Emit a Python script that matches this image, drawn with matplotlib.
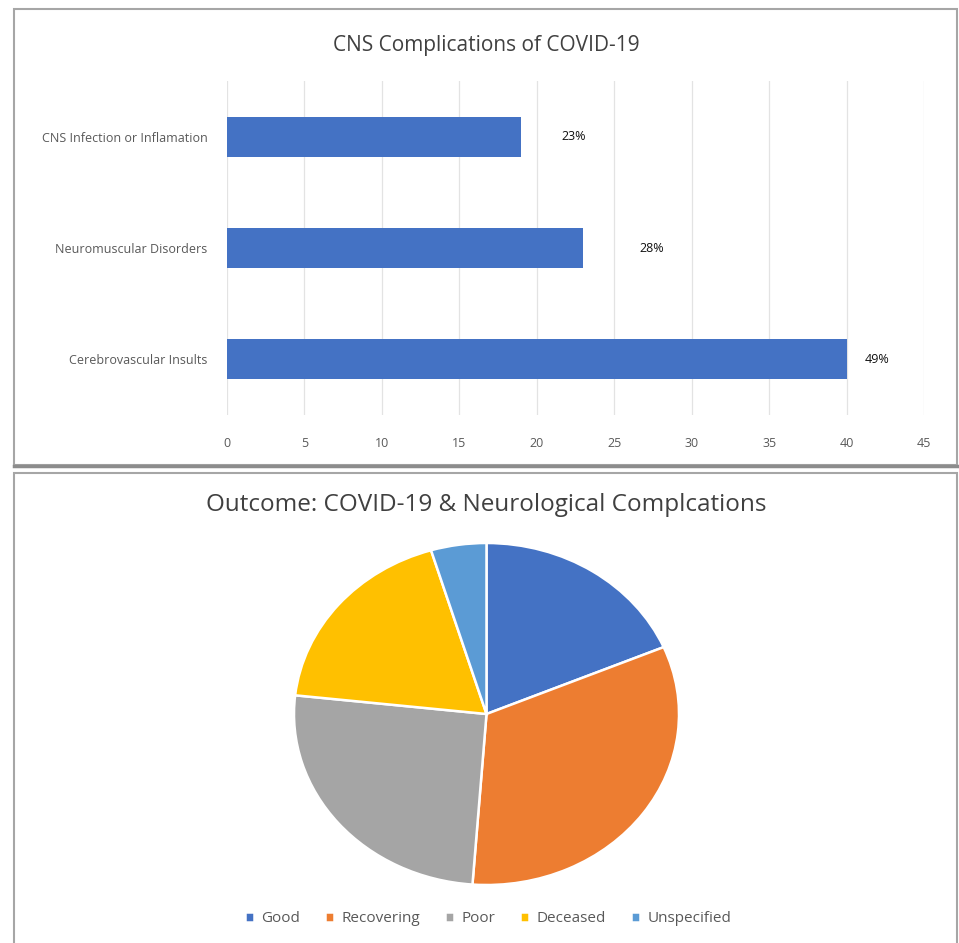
import matplotlib.pyplot as plt
from matplotlib.patches import Rectangle

# bar chart data
categories = ["CNS Infection or Inflamation", "Neuromuscular Disorders", "Cerebrovascular Insults"]
counts = [19, 23, 40]
pct_labels = ["23%", "28%", "49%"]
label_offsets = [2.6, 3.6, 1.2]  # excel labels were nudged by hand

# pie chart data
outcomes = ["Good", "Recovering", "Poor", "Deceased", "Unspecified"]
outcome_counts = [8, 14, 11, 8, 2]
outcome_colors = ["#4472C4", "#ED7D31", "#A5A5A5", "#FFC000", "#5B9BD5"]

W, H = 959, 943


def px_box(x0, y0, x1, y1):
    # pixel box (top-left origin) -> figure fraction rect
    return [x0 / W, 1 - y1 / H, (x1 - x0) / W, (y1 - y0) / H]


def main() -> None:
    plt.rcParams["font.family"] = ["Open Sans", "DejaVu Sans"]
    fig = plt.figure(figsize=(W / 100, H / 100), dpi=100)

    # panel frames
    for (x0, y0, x1, y1) in [(14, 9, 957, 465), (14, 473, 957, 950)]:
        r = px_box(x0, y0, x1, y1)
        fig.patches.append(Rectangle((r[0], r[1]), r[2], r[3], transform=fig.transFigure,
                                     facecolor="none", edgecolor="#a6a6a6", lw=1.5, zorder=-1))
    fig.add_artist(plt.Line2D([14 / W, 957 / W], [1 - 466 / H, 1 - 466 / H],
                              transform=fig.transFigure, color="#8c8c8c", lw=2.5))

    # --- bar chart ---
    ax1 = fig.add_axes(px_box(227, 81, 924, 415))
    ax1.patch.set_alpha(0)
    ypos = list(range(len(categories)))[::-1]
    ax1.barh(ypos, counts, height=0.36, color="#4472C4", zorder=2)
    for y, v, lab, off in zip(ypos, counts, pct_labels, label_offsets):
        ax1.text(v + off, y, lab, va="center", ha="left", fontsize=9, color="#111111")
    ax1.set_xlim(0, 45)
    ax1.set_ylim(-0.5, 2.5)
    ax1.set_xticks(range(0, 46, 5))
    ax1.set_yticks(ypos)
    ax1.set_yticklabels(categories)
    ax1.grid(axis="x", color="#e3e3e3", lw=0.9, zorder=0)
    ax1.set_axisbelow(True)
    for s in ax1.spines.values():
        s.set_visible(False)
    ax1.tick_params(axis="both", length=0, colors="#595959", labelsize=9)
    ax1.tick_params(axis="x", pad=16)
    ax1.tick_params(axis="y", pad=14)
    fig.text(486 / W, 1 - 45 / H, "CNS Complications of COVID-19", ha="center", va="center",
             fontsize=15, color="#404040")

    # --- pie chart ---
    ax2 = fig.add_axes(px_box(294, 543, 679, 885))
    wedges, _ = ax2.pie(outcome_counts, colors=outcome_colors, startangle=90, counterclock=False,
                        wedgeprops=dict(edgecolor="white", linewidth=1.8))
    ax2.set_aspect("auto")
    ax2.set_xlim(-1, 1)
    ax2.set_ylim(-1, 1)
    fig.text(486 / W, 1 - 505 / H, "Outcome: COVID-19 & Neurological Complcations", ha="center",
             va="center", fontsize=17.5, color="#404040")
    fig.legend(wedges, outcomes, loc="center", bbox_to_anchor=(488 / W, 1 - 919 / H), ncol=5,
               frameon=False, fontsize=11, labelcolor="#595959", handlelength=0.6,
               handleheight=0.6, handletextpad=0.5, columnspacing=1.6)

    fig.savefig("out.png", dpi=100)


if __name__ == "__main__":
    main()
